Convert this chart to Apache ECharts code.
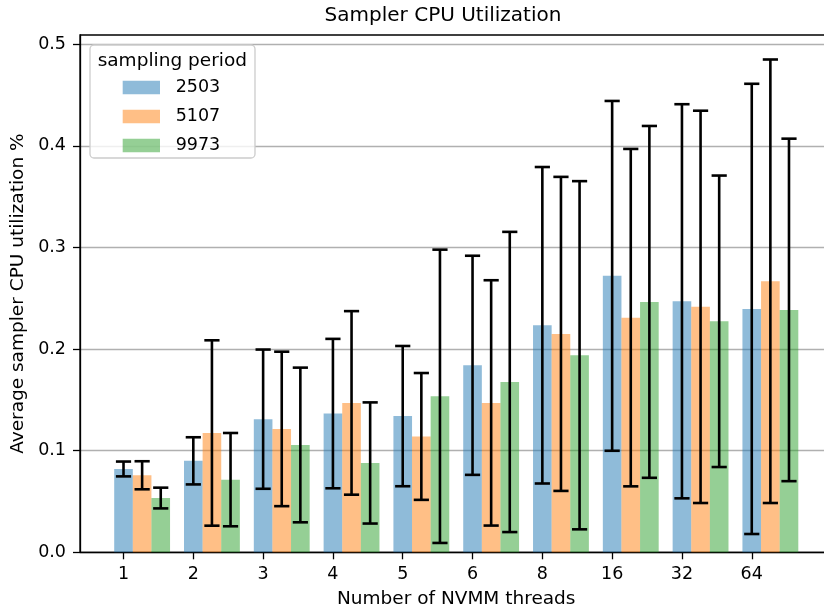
<!DOCTYPE html>
<html>
<head>
<meta charset="utf-8">
<script src="https://cdn.jsdelivr.net/npm/echarts@6/dist/echarts.min.js"></script>
<style>html,body{margin:0;padding:0;background:#fff}#c{width:824px;height:609px}</style>
</head>
<body>
<div id="c"></div>
<script>
// ---- data ----
const categories = ['1', '2', '3', '4', '5', '6', '8', '16', '32', '64'];
const periods = ['2503', '5107', '9973'];
const mean2503 = [0.082, 0.090, 0.131, 0.1365, 0.134, 0.184, 0.2234, 0.272, 0.247, 0.2395];
const err2503  = [0.0073, 0.0232, 0.0685, 0.0735, 0.069, 0.1078, 0.1557, 0.1721, 0.1939, 0.2215];
const mean5107 = [0.0758, 0.1174, 0.1214, 0.147, 0.114, 0.147, 0.2149, 0.2309, 0.2415, 0.2667];
const err5107  = [0.0138, 0.0912, 0.076, 0.0903, 0.0624, 0.1207, 0.1545, 0.166, 0.193, 0.2182];
const mean9973 = [0.0534, 0.0715, 0.1056, 0.0879, 0.1535, 0.1676, 0.1939, 0.2464, 0.2273, 0.2385];
const err9973  = [0.0102, 0.0459, 0.0761, 0.0596, 0.1443, 0.1477, 0.1713, 0.1731, 0.1434, 0.1685];
const yTicks = [0, 0.1, 0.2, 0.3, 0.4, 0.5];

const means = [mean2503, mean5107, mean9973];
const errs = [err2503, err5107, err9973];
const colors = ['rgba(31,119,180,0.5)', 'rgba(255,127,14,0.5)', 'rgba(44,160,44,0.5)'];
const W = 0.8 / 3;          // bar width in axis units
const CAP = 7.6;            // error-bar cap half width (px)
const FONT = 'DejaVu Sans';

function makeRender(j) {
  return function (params, api) {
    const k = api.value(0), m = api.value(1), e = api.value(2);
    const xc = k + j * W;
    const p0 = api.coord([xc - W / 2, 0]);
    const p1 = api.coord([xc + W / 2, m]);
    const top = api.coord([xc, m + e]);
    const bot = api.coord([xc, m - e]);
    const ls = { stroke: '#000', lineWidth: 2.6 };
    return {
      type: 'group',
      children: [
        { type: 'rect', z2: 0, shape: { x: p0[0], y: p1[1], width: p1[0] - p0[0], height: p0[1] - p1[1] },
          style: { fill: colors[j] } },
        { type: 'line', z2: 10, shape: { x1: top[0], y1: top[1], x2: bot[0], y2: bot[1] }, style: ls },
        { type: 'line', z2: 10, shape: { x1: top[0] - CAP, y1: top[1], x2: top[0] + CAP, y2: top[1] }, style: ls },
        { type: 'line', z2: 10, shape: { x1: bot[0] - CAP, y1: bot[1], x2: bot[0] + CAP, y2: bot[1] }, style: ls }
      ]
    };
  };
}

const series = periods.map((p, j) => ({
  name: p,
  type: 'custom',
  renderItem: makeRender(j),
  itemStyle: { color: colors[j] },
  encode: { x: 0, y: 1 },
  data: categories.map((c, k) => [k, means[j][k], errs[j][k]])
}));

const chart = echarts.init(document.getElementById('c'), null, { renderer: 'canvas' });
chart.setOption({
  animation: false,
  backgroundColor: '#fff',
  textStyle: { fontFamily: FONT, color: '#000' },
  title: {
    text: 'Sampler CPU Utilization',
    left: 443, top: 6, textAlign: 'center', padding: 0,
    textStyle: { fontFamily: FONT, fontSize: 20, fontWeight: 'normal', color: '#000' }
  },
  grid: {
    left: 80, top: 35, width: 752.5, height: 517.3,
    outerBoundsMode: 'none', containLabel: false,
    show: true, borderColor: '#000', borderWidth: 1.3, backgroundColor: 'transparent'
  },
  xAxis: {
    type: 'value',
    min: -0.6233, max: 10.1567,
    name: 'Number of NVMM threads',
    nameLocation: 'middle', nameGap: 37,
    nameTextStyle: { fontFamily: FONT, fontSize: 18.5, color: '#000' },
    axisLine: { show: true, onZero: false, lineStyle: { color: '#000', width: 1.3 } },
    axisTick: { show: true, length: 7, lineStyle: { color: '#000', width: 1.3 }, customValues: categories.map((c, k) => k) },
    axisLabel: { show: true, margin: 13, fontFamily: FONT, fontSize: 17.5, color: '#000',
      customValues: categories.map((c, k) => k),
      formatter: v => categories[Math.round(v)] },
    splitLine: { show: false }
  },
  yAxis: {
    type: 'value',
    min: 0, max: 0.509,
    name: 'Average sampler CPU utilization %',
    nameLocation: 'middle', nameGap: 49,
    nameTextStyle: { fontFamily: FONT, fontSize: 18.5, color: '#000' },
    axisLine: { show: true, onZero: false, lineStyle: { color: '#000', width: 1.3 } },
    axisTick: { show: true, length: 7, lineStyle: { color: '#000', width: 1.3 }, customValues: yTicks },
    axisLabel: { show: true, margin: 14, fontFamily: FONT, fontSize: 17.5, color: '#000',
      customValues: yTicks, formatter: v => v.toFixed(1) },
    splitLine: { show: true, lineStyle: { color: '#b0b0b0', width: 1.4 } }
  },
  legend: {
    orient: 'vertical', z: 20, padding: 0,
    left: 122.7, top: 78.5,
    // swatch 37.3 wide followed by ~10.7px of empty space before the label
    icon: 'path://M0,0L37.3,0L37.3,13.3L0,13.3Z M48,0L48,0.001',
    itemWidth: 48, itemHeight: 13.3, itemGap: 11,
    data: periods,
    textStyle: { fontFamily: FONT, fontSize: 17.5, color: '#000' }
  },
  graphic: [
    { type: 'rect', z: 10, shape: { x: 90, y: 45, width: 165, height: 113, r: 4 },
      style: { fill: 'rgba(255,255,255,0.8)', stroke: '#cccccc', lineWidth: 1.3 } },
    { type: 'text', z: 21, x: 172.3, y: 61,
      style: { text: 'sampling period', fontFamily: FONT, fontSize: 18.5, fill: '#000', align: 'center', verticalAlign: 'middle' } }
  ],
  series: series
});
</script>
</body>
</html>
